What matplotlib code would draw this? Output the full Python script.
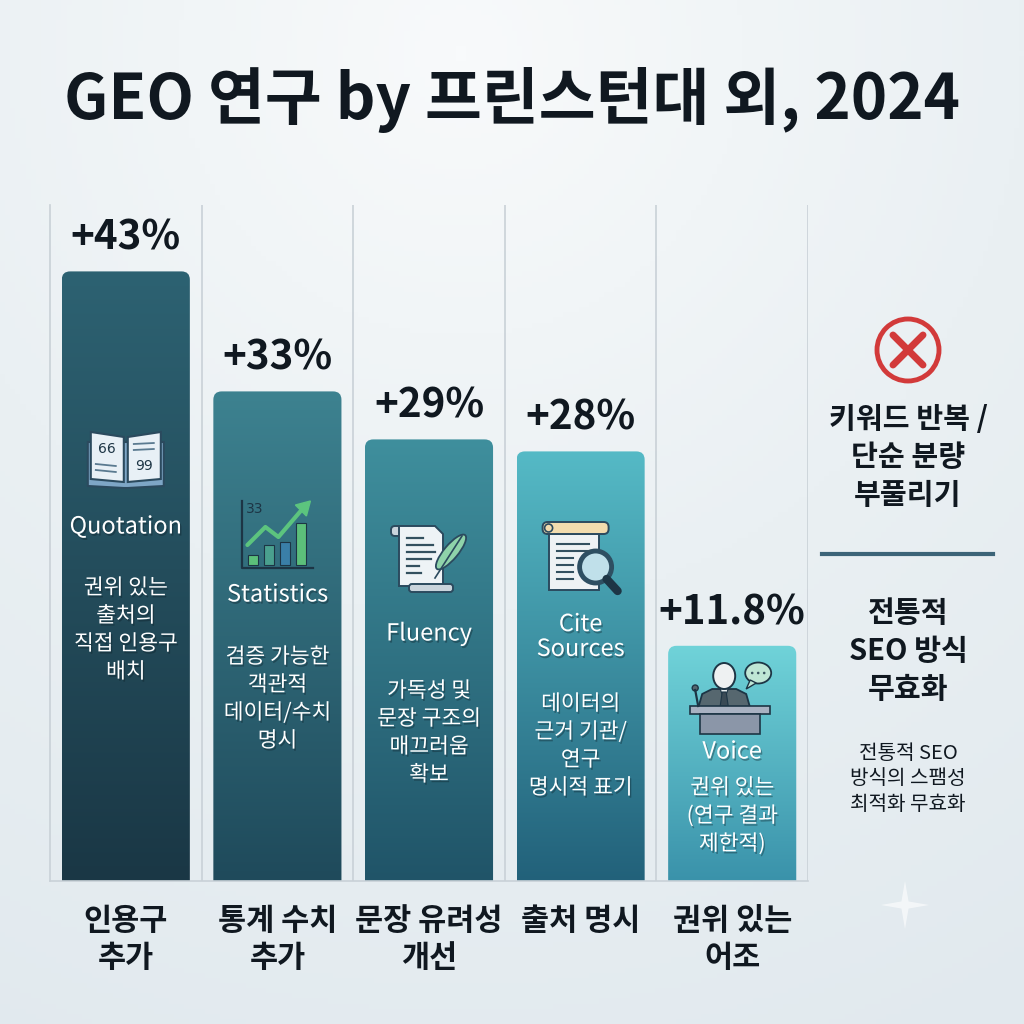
import numpy as np
import matplotlib.pyplot as plt
import matplotlib.patheffects as pe
from matplotlib.colors import LinearSegmentedColormap
from matplotlib.patches import FancyBboxPatch, Circle, Polygon, Rectangle, Ellipse
from matplotlib.transforms import blended_transform_factory

plt.rcParams['font.family'] = ['Noto Sans CJK KR', 'DejaVu Sans']

# -------------------------
# DATA
# -------------------------
title = "GEO 연구 by 프린스턴대 외, 2024"
categories = ["인용구\n추가", "통계 수치\n추가", "문장 유려성\n개선", "출처 명시", "권위 있는\n어조"]
values = [43, 33, 29, 28, 11.8]
value_labels = ["+43%", "+33%", "+29%", "+28%", "+11.8%"]
methods = ["Quotation", "Statistics", "Fluency", "Cite\nSources", "Voice"]
descriptions = [
    "권위 있는\n출처의\n직접 인용구\n배치",
    "검증 가능한\n객관적\n데이터/수치\n명시",
    "가독성 및\n문장 구조의\n매끄러움\n확보",
    "데이터의\n근거 기관/\n연구\n명시적 표기",
    "권위 있는\n(연구 결과\n제한적)",
]
top_colors = ["#2d6272", "#3d8290", "#3f8f9d", "#55bac6", "#70d3d9"]
bottom_colors = ["#1a3745", "#1f4a5b", "#205468", "#22617a", "#3a92aa"]
side_heading = "키워드 반복 /\n단순 분량\n부풀리기"
side_result = "전통적\nSEO 방식\n무효화"
side_note = "전통적 SEO\n방식의 스팸성\n최적화 무효화"

# layout (pixel rows, from top)
icon_y = [458, 535, 560, 560, 698]
method_y = [527, 595, 634, 637, 752]
desc_y = [630, 699, 733, 746, 816]

W = H = 1024
DARK = "#101820"
LINE = "#2b4a5e"
base = -7.8
shadow = [pe.SimplePatchShadow(offset=(1, -1.5), alpha=0.35, shadow_rgbFace="#0a1a22"), pe.Normal()]

fig = plt.figure(figsize=(10.24, 10.24), dpi=100)

# background gradient
bg = fig.add_axes([0, 0, 1, 1], zorder=-10)
yy, xx = np.mgrid[0:1:200j, 0:1:200j]
dist = np.sqrt((xx - 0.45) ** 2 + (yy - 0.05) ** 2)
bg_cmap = LinearSegmentedColormap.from_list("bg", ["#f8fafb", "#eaf0f3", "#e1e9ee"])
bg.imshow(dist, cmap=bg_cmap, extent=(0, 1, 0, 1), aspect="auto", origin="upper")
bg.set_axis_off()

# overlay in pixel coords, y going down
ov = fig.add_axes([0, 0, 1, 1], zorder=5)
ov.set_xlim(0, W)
ov.set_ylim(H, 0)
ov.set_axis_off()
ov.patch.set_alpha(0)

ax = fig.add_axes([50 / W, (H - 881) / H, 758 / W, 676 / H], zorder=1)
ax.patch.set_alpha(0)

x = np.arange(len(values))
bars = ax.bar(x, np.array(values) - base, bottom=base, width=0.845, color="none")

for i, b in enumerate(bars):
    x0, w = b.get_x(), b.get_width()
    y1 = b.get_y() + b.get_height()
    patch = FancyBboxPatch((x0, base - 3), w, y1 - base + 3,
                           boxstyle="round,pad=0,rounding_size=0.055",
                           mutation_aspect=151.6 / 12.0,
                           facecolor="none", edgecolor="none")
    ax.add_patch(patch)
    cmap = LinearSegmentedColormap.from_list("g%d" % i, [bottom_colors[i], top_colors[i]])
    grad = np.linspace(0, 1, 256).reshape(-1, 1)
    im = ax.imshow(grad, cmap=cmap, origin="lower", aspect="auto",
                   extent=(x0, x0 + w, base, y1), zorder=2)
    im.set_clip_path(patch)
    ax.annotate(value_labels[i], xy=(i, y1), xytext=(0, 33), textcoords="offset pixels",
                ha="center", va="center", fontsize=29, fontweight=900, color=DARK)

# imshow resets limits, so fix them afterwards
ax.set_xlim(-0.5, 4.5)
ax.set_ylim(base, base + 676 / 12.0)

# separators and frame
for s in np.arange(0.5, 4.6, 1.0):
    ax.axvline(s, color="#c9d1d7", lw=1.2, zorder=0)
for side in ["top", "right"]:
    ax.spines[side].set_visible(False)
for side in ["left", "bottom"]:
    ax.spines[side].set_color("#c9d1d7")
    ax.spines[side].set_linewidth(1.2)
ax.set_yticks([])
ax.set_xticks(x)
ax.set_xticklabels(categories, fontsize=22, fontweight=900, color=DARK, linespacing=1.2)
ax.tick_params(axis="x", length=0, pad=17)

# text inside bars
tr = blended_transform_factory(ax.transData, ov.transData)
for i in range(len(values)):
    ax.text(i, method_y[i], methods[i], transform=tr, ha="center", va="center",
            fontsize=17, color="white", linespacing=1.1, zorder=6, path_effects=shadow)
    ax.text(i, desc_y[i], descriptions[i], transform=tr, ha="center", va="center",
            fontsize=15.5, color="white", linespacing=1.35, zorder=6, path_effects=shadow)


def px_x(i):
    return ax.transData.transform((i, 0))[0]


def book_icon(cx, cy):
    ov.add_patch(Polygon([(cx - 38, cy - 16), (cx + 38, cy - 16), (cx + 38, cy + 28),
                          (cx + 2, cy + 30), (cx - 2, cy + 30), (cx - 38, cy + 28)],
                         closed=True, fc="#7ea6c6", ec=LINE, lw=1.5))
    ov.add_patch(Polygon([(cx - 35, cy - 26), (cx - 2, cy - 21), (cx - 2, cy + 24), (cx - 35, cy + 21)],
                         closed=True, fc="#e8f0f6", ec=LINE, lw=1.5))
    ov.add_patch(Polygon([(cx + 35, cy - 26), (cx + 2, cy - 21), (cx + 2, cy + 24), (cx + 35, cy + 21)],
                         closed=True, fc="#e8f0f6", ec=LINE, lw=1.5))
    ov.text(cx - 19, cy - 9, "66", fontsize=10, color="#1d3545", ha="center", va="center", family="DejaVu Sans")
    ov.text(cx + 18, cy + 8, "99", fontsize=10, color="#1d3545", ha="center", va="center", family="DejaVu Sans")
    for dy in (6, 12):
        ov.plot([cx - 30, cx - 10], [cy + dy, cy + dy + 2], color="#5a7a90", lw=1.3)
    for dy in (-15, -9):
        ov.plot([cx + 8, cx + 28], [cy + dy + 1, cy + dy], color="#5a7a90", lw=1.3)


def stats_icon(cx, cy):
    ov.plot([cx - 35, cx - 35, cx + 36], [cy - 34, cy + 33, cy + 33], color="#1d3545", lw=1.6)
    cols = ["#5cbf7a", "#4aa08e", "#3a7fa8", "#5cbf7a"]
    for k, (dx, hh) in enumerate([(-29, 10), (-13, 20), (3, 23), (19, 42)]):
        ov.add_patch(Rectangle((cx + dx, cy + 30 - hh), 10, hh, fc=cols[k], ec="#1d3545", lw=0.8))
    ov.plot([cx - 30, cx - 12, cx + 1, cx + 25], [cy + 10, cy - 8, cy + 2, cy - 26],
            color="#5cc47e", lw=3, solid_capstyle="round")
    ov.add_patch(Polygon([(cx + 33, cy - 34), (cx + 18, cy - 30), (cx + 29, cy - 19)],
                         closed=True, fc="#5cc47e", ec="#5cc47e"))
    ov.text(cx - 23, cy - 26, "33", fontsize=10, color="#1d3545", ha="center", va="center", family="DejaVu Sans")


def fluency_icon(cx, cy):
    ov.add_patch(FancyBboxPatch((cx - 38, cy - 34), 14, 10, boxstyle="round,pad=0,rounding_size=4",
                                fc="#c9d4dc", ec=LINE, lw=1.4))
    ov.add_patch(Polygon([(cx - 30, cy - 34), (cx + 6, cy - 34), (cx + 14, cy - 26), (cx + 14, cy + 26),
                          (cx - 30, cy + 26)], closed=True, fc="#eef3f6", ec=LINE, lw=1.4))
    ov.add_patch(FancyBboxPatch((cx - 20, cy + 24), 44, 8, boxstyle="round,pad=0,rounding_size=3",
                                fc="#c9d4dc", ec=LINE, lw=1.4))
    for k, (l, r) in enumerate([(-22, -6), (-22, 4), (-22, 6), (-22, 2), (-22, -10), (-22, -8)]):
        yl = cy - 22 + k * 7
        ov.plot([cx + l, cx + r], [yl, yl], color="#33505f", lw=1.6)
    ov.add_patch(Ellipse((cx + 22, cy - 8), 14, 44, angle=40, fc="#8fd3aa", ec=LINE, lw=1.3))
    ov.plot([cx + 33, cx + 6], [cy - 24, cy + 18], color=LINE, lw=1.2)


def cite_icon(cx, cy):
    ov.add_patch(Rectangle((cx - 32, cy - 26), 50, 56, fc="#eef2f4", ec=LINE, lw=1.4))
    ov.add_patch(FancyBboxPatch((cx - 38, cy - 38), 66, 12, boxstyle="round,pad=0,rounding_size=5",
                                fc="#f2dcae", ec=LINE, lw=1.4))
    ov.add_patch(Circle((cx - 32, cy - 32), 4, fc="#f2dcae", ec=LINE, lw=1.2))
    for k in range(6):
        yl = cy - 16 + k * 7
        ov.plot([cx - 24, cx + (8 if k < 2 else -8)], [yl, yl], color="#33505f", lw=1.5)
    ov.plot([cx + 26, cx + 37], [cy + 19, cy + 31], color="#1d3545", lw=6, solid_capstyle="round")
    ov.add_patch(Circle((cx + 15, cy + 7), 16, fc="#c0e0ea", ec="#2e4f62", lw=3.5))


def voice_icon(cx, cy):
    # torso
    ov.add_patch(Polygon([(cx - 34, cy + 10), (cx - 30, cy - 4), (cx - 20, cy - 9), (cx + 4, cy - 9),
                          (cx + 14, cy - 4), (cx + 18, cy + 10)],
                         closed=True, fc="#56676f", ec="#1d3545", lw=1.3))
    ov.add_patch(Polygon([(cx - 12, cy - 9), (cx - 4, cy - 9), (cx - 8, cy + 2)], closed=True,
                         fc="#e8eef0", ec="#1d3545", lw=0.8))
    ov.add_patch(Polygon([(cx - 10, cy - 6), (cx - 6, cy - 6), (cx - 4, cy + 8), (cx - 12, cy + 8)],
                         closed=True, fc="#3a4a55", ec="#1d3545", lw=0.8))
    ov.add_patch(Ellipse((cx - 8, cy - 22), 22, 26, fc="#eef1f2", ec="#1d3545", lw=1.4))
    # mic
    ov.plot([cx - 34, cx - 37], [cy + 8, cy - 8], color="#1d3545", lw=1.6)
    ov.add_patch(Circle((cx - 37, cy - 10), 3, fc="#56676f", ec="#1d3545", lw=1))
    # podium
    ov.add_patch(Rectangle((cx - 42, cy + 8), 80, 8, fc="#a9b2c2", ec="#1d3545", lw=1.2))
    ov.add_patch(Rectangle((cx - 32, cy + 16), 60, 20, fc="#8b96a8", ec="#1d3545", lw=1.2))
    # speech bubble
    ov.add_patch(Ellipse((cx + 26, cy - 25), 26, 21, fc="#bfe6d5", ec="#1d3545", lw=1.3))
    ov.add_patch(Polygon([(cx + 18, cy - 18), (cx + 14, cy - 9), (cx + 24, cy - 15)], closed=True,
                         fc="#bfe6d5", ec="#1d3545", lw=1))
    for d in (-6, 0, 6):
        ov.add_patch(Circle((cx + 26 + d, cy - 25), 1.3, fc="#3a5560", ec="none"))


icons = [book_icon, stats_icon, fluency_icon, cite_icon, voice_icon]
for i, draw in enumerate(icons):
    draw(px_x(i), icon_y[i])

# title
ov.text(W / 2, 100, title, ha="center", va="center", fontsize=44.5, fontweight=900, color=DARK)

# right panel
cx_r = 908
ov.add_patch(Circle((cx_r, 350), 31, fc="none", ec="#d23a3a", lw=3.5))
ov.plot([cx_r - 15, cx_r + 15], [335, 365], color="#d23a3a", lw=5, solid_capstyle="round")
ov.plot([cx_r - 15, cx_r + 15], [365, 335], color="#d23a3a", lw=5, solid_capstyle="round")
ov.text(cx_r, 457, side_heading, ha="center", va="center", fontsize=21, fontweight=900,
        color=DARK, linespacing=1.35)
ov.plot([822, 993], [554, 554], color="#3c6478", lw=3)
ov.text(cx_r, 651, side_result, ha="center", va="center", fontsize=21, fontweight=900,
        color=DARK, linespacing=1.35)
ov.text(cx_r, 779, side_note, ha="center", va="center", fontsize=14.5,
        color=DARK, linespacing=1.3)

# faint sparkle
t = np.linspace(0, 2 * np.pi, 9)[:-1]
rr = np.where(np.arange(8) % 2 == 0, 24, 5)
ov.add_patch(Polygon(np.c_[905 + rr * np.sin(t), 905 - rr * np.cos(t)], closed=True,
                     fc="white", ec="none", alpha=0.6))

fig.savefig("out.png", dpi=100)
